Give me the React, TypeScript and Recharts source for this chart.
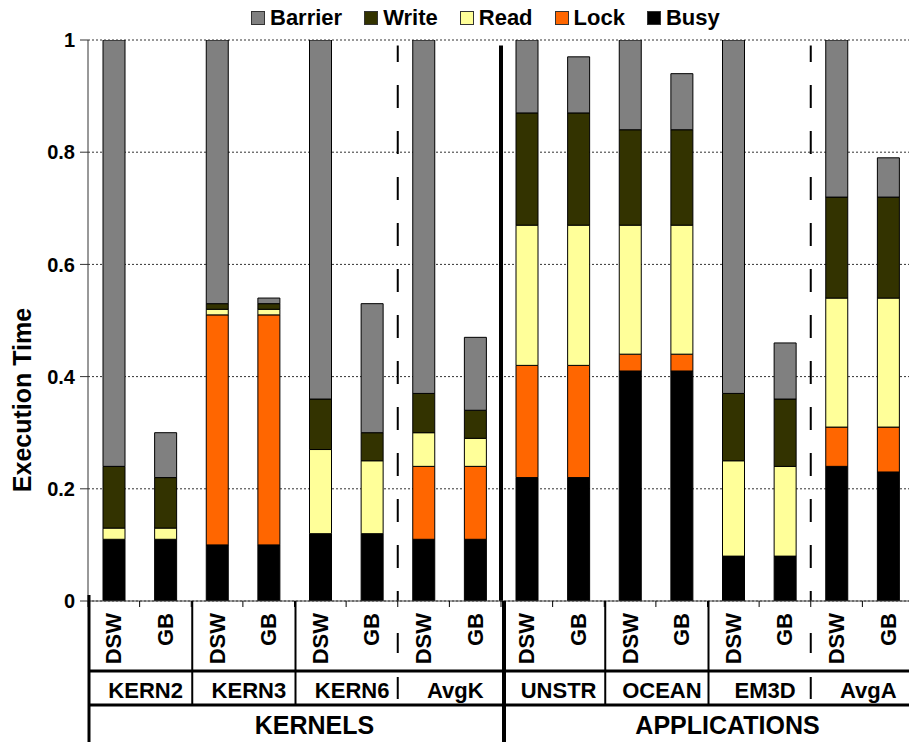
import { BarChart, Bar, XAxis, YAxis, CartesianGrid, ReferenceLine, Label } from 'recharts';

const FONT = '"Liberation Sans", Arial, sans-serif';

// benchmark groups, two protocol configurations each
const groups = ['KERN2', 'KERN3', 'KERN6', 'AvgK', 'UNSTR', 'OCEAN', 'EM3D', 'AvgA'];
const configs = ['DSW', 'GB'];
const sections = ['KERNELS', 'APPLICATIONS'];

// normalized execution time breakdown, one entry per bar (DSW, GB, DSW, GB, ...)
const busy = [0.11, 0.11, 0.1, 0.1, 0.12, 0.12, 0.11, 0.11, 0.22, 0.22, 0.41, 0.41, 0.08, 0.08, 0.24, 0.23];
const lock = [0, 0, 0.41, 0.41, 0, 0, 0.13, 0.13, 0.2, 0.2, 0.03, 0.03, 0, 0, 0.07, 0.08];
const read = [0.02, 0.02, 0.01, 0.01, 0.15, 0.13, 0.06, 0.05, 0.25, 0.25, 0.23, 0.23, 0.17, 0.16, 0.23, 0.23];
const write = [0.11, 0.09, 0.01, 0.01, 0.09, 0.05, 0.07, 0.05, 0.2, 0.2, 0.17, 0.17, 0.12, 0.12, 0.18, 0.18];
const barrier = [0.76, 0.08, 0.47, 0.01, 0.64, 0.23, 0.63, 0.13, 0.13, 0.1, 0.16, 0.1, 0.63, 0.1, 0.28, 0.07];

const yTicks = [0, 0.2, 0.4, 0.6, 0.8, 1];

// stacking order bottom -> top
const series = [
  { key: 'busy', name: 'Busy', color: '#000000' },
  { key: 'lock', name: 'Lock', color: '#FF6600' },
  { key: 'read', name: 'Read', color: '#FFFF99' },
  { key: 'write', name: 'Write', color: '#333300' },
  { key: 'barrier', name: 'Barrier', color: '#808080' },
];

const data = busy.map((_, i) => ({
  slot: i + 0.5,
  busy: busy[i],
  lock: lock[i],
  read: read[i],
  write: write[i],
  barrier: barrier[i],
}));

const boundaries = Array.from({ length: data.length + 1 }, (_, i) => i);

const CHART_W = 914;
const CHART_H = 742;
const PLOT_L = 88;
const PLOT_TOP = 40;
const AXIS_H = 141;
const SLOT = (CHART_W - PLOT_L) / data.length;
const BASE = CHART_H - AXIS_H;
const DIVIDER_TOP = 0.99;

const txt = { fontFamily: FONT, fontWeight: 700, fill: '#000' };

const XTick = (props: any) => {
  const { x, payload } = props;
  const i = payload.value as number;
  const n = data.length;
  const parts: any[] = [];

  if (i < n) {
    parts.push(
      <text key="cfg" transform={`translate(${x + SLOT / 2},${BASE + 12}) rotate(-90)`}
        textAnchor="end" dominantBaseline="central" fontSize={22} {...txt}>
        {configs[i % 2]}
      </text>
    );
    if (i % 2 === 0) {
      parts.push(
        <text key="grp" x={x + SLOT + 6} y={BASE + 89} textAnchor="middle"
          dominantBaseline="central" fontSize={22} {...txt}>
          {groups[i / 2]}
        </text>
      );
    }
    if (i % 8 === 0) {
      parts.push(
        <text key="sec" x={x + 4 * SLOT + 20} y={BASE + 124} textAnchor="middle"
          dominantBaseline="central" fontSize={25} {...txt}>
          {sections[i / 8]}
        </text>
      );
    }
  }

  if (i === 0) {
    parts.push(<line key="l0" x1={x + 1} x2={x + 1} y1={BASE - 6} y2={CHART_H} stroke="#000" strokeWidth={3} />);
    parts.push(<line key="h1" x1={x} x2={x + n * SLOT} y1={BASE + 70} y2={BASE + 70} stroke="#000" strokeWidth={3} />);
    parts.push(<line key="h2" x1={x} x2={x + n * SLOT} y1={BASE + 104} y2={BASE + 104} stroke="#000" strokeWidth={3} />);
  } else if (i === 8) {
    parts.push(<line key="l8" x1={x + 3} x2={x + 3} y1={BASE} y2={CHART_H} stroke="#000" strokeWidth={4} />);
  } else if (i === 6 || i === 14) {
    parts.push(<line key="s1" x1={x} x2={x} y1={BASE + 32} y2={BASE + 52} stroke="#000" strokeWidth={2} />);
    parts.push(<line key="s2" x1={x} x2={x} y1={BASE + 76} y2={BASE + 98} stroke="#000" strokeWidth={2} />);
  } else if (i % 2 === 0 && i < n) {
    parts.push(<line key="d" x1={x + 1} x2={x + 1} y1={BASE} y2={BASE + 104} stroke="#000" strokeWidth={2} />);
  }

  return <g>{parts}</g>;
};

const legendOrder = [...series].reverse();

export default function App() {
  return (
    <div style={{ position: 'absolute', left: 0, top: 0, width: 909, height: 742, overflow: 'hidden', background: '#fff' }}>
      <div style={{ position: 'absolute', left: 251, top: 6, display: 'flex', alignItems: 'center', fontFamily: FONT, fontWeight: 700, fontSize: 22, lineHeight: '24px' }}>
        {legendOrder.map((s) => (
          <div key={s.key} style={{ display: 'flex', alignItems: 'center', marginRight: 22 }}>
            <span style={{ width: 12, height: 12, background: s.color, border: '1px solid #333', marginRight: 5, display: 'inline-block' }} />
            <span>{s.name}</span>
          </div>
        ))}
      </div>
      <BarChart width={CHART_W} height={CHART_H} data={data} barSize={22}
        margin={{ top: PLOT_TOP, right: 0, left: 0, bottom: 0 }}>
        <CartesianGrid vertical={false} stroke="#333" strokeDasharray="2 2" />
        <YAxis type="number" domain={[0, 1]} ticks={yTicks} allowDataOverflow width={PLOT_L}
          tickFormatter={(v: number) => (v === 0 || v === 1 ? String(v) : v.toFixed(1))}
          tick={{ fontSize: 20, fontWeight: 700, fill: '#000', fontFamily: FONT }}
          tickSize={8} tickMargin={5} stroke="#333" tickLine={{ stroke: '#333' }}>
          <Label content={() => (
            <text transform={`translate(22,${PLOT_TOP + 360}) rotate(-90)`} textAnchor="middle"
              dominantBaseline="central" fontSize={25} {...txt}>
              Execution Time
            </text>
          )} />
        </YAxis>
        <XAxis type="number" dataKey="slot" domain={[0, data.length]} ticks={boundaries} interval={0}
          height={AXIS_H} tick={<XTick />} tickSize={6} tickMargin={0}
          stroke="#444" tickLine={{ stroke: '#000' }} />
        {series.map((s) => (
          <Bar key={s.key} dataKey={s.key} name={s.name} stackId="t" fill={s.color}
            stroke="#000" strokeWidth={1} isAnimationActive={false} />
        ))}
        <ReferenceLine segment={[{ x: 6, y: 0 }, { x: 6, y: DIVIDER_TOP }]} stroke="#000" strokeWidth={2}
          strokeDasharray="23 23" strokeDashoffset={13} />
        <ReferenceLine segment={[{ x: 14, y: 0 }, { x: 14, y: DIVIDER_TOP }]} stroke="#000" strokeWidth={2}
          strokeDasharray="23 23" strokeDashoffset={13} />
        <ReferenceLine segment={[{ x: 8, y: 0 }, { x: 8, y: DIVIDER_TOP }]} stroke="#000" strokeWidth={4} />
      </BarChart>
    </div>
  );
}
